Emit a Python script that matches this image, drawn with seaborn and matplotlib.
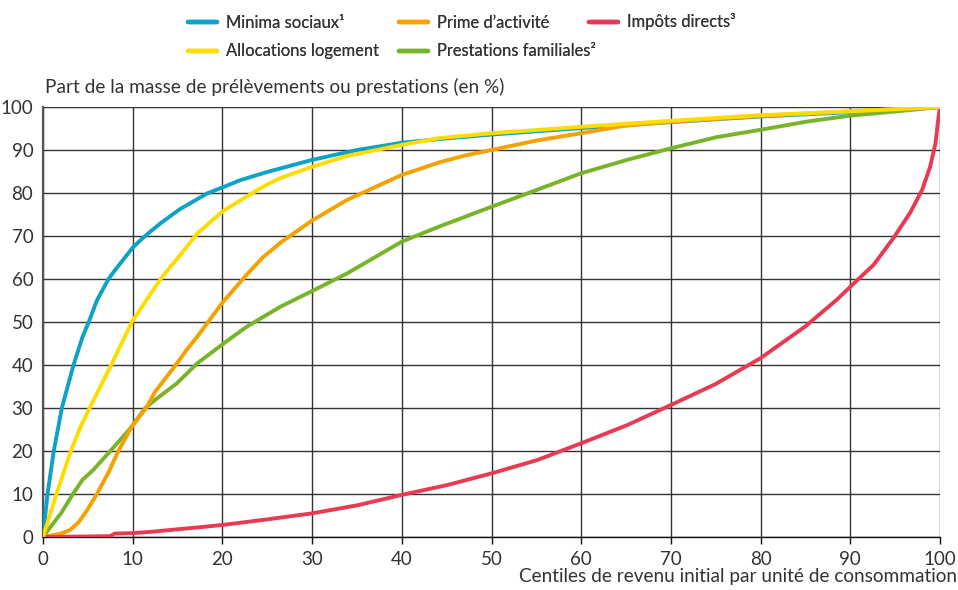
import matplotlib
matplotlib.use("Agg")
import matplotlib.pyplot as plt
import seaborn as sns
import pandas as pd

# Courbes de concentration (centile, part cumulée en %)
minima_x = [0, 0.5, 1.2, 2.1, 3.4, 4.4, 5.1, 6, 7.3, 8, 10, 11, 12, 13, 14.5, 15.3, 18.3, 20, 22, 25, 30, 35, 40, 45, 50, 60, 70, 80, 90, 100]
minima_y = [0, 10, 20, 30, 40, 46.5, 50, 55, 60, 62, 67.3, 69.3, 71.1, 72.8, 75.1, 76.3, 79.9, 81.3, 83, 84.9, 87.7, 90, 91.7, 92.7, 93.6, 95.1, 96.5, 97.8, 98.8, 100]

logement_x = [0, 1.5, 3.1, 4.2, 5.2, 7.6, 9.9, 13.1, 15.3, 17.2, 20, 22.7, 25, 26.5, 30, 33.9, 40, 44.3, 50, 60, 70, 80, 90, 100]
logement_y = [0, 10, 20, 25.7, 30, 40, 50, 60, 65.6, 70.6, 75.7, 79.2, 82, 83.5, 86.1, 88.6, 91.2, 92.8, 93.9, 95.4, 96.8, 98.1, 99, 100]

prime_x = [0, 1, 2, 3, 4, 5, 6, 7.3, 8.4, 9.9, 11.5, 12.5, 14.8, 16, 17.2, 20, 22.7, 24.5, 26.5, 30, 33.9, 40, 44.3, 47, 50, 55, 60, 64.7, 70, 80, 90, 100]
prime_y = [0, 0.4, 0.8, 1.6, 3.5, 6.5, 10, 15, 20, 25.7, 30, 33.8, 40, 43.5, 46.6, 54.5, 61, 65, 68.5, 73.6, 78.4, 84.2, 87.2, 88.7, 90, 92.2, 93.9, 95.6, 96.6, 97.9, 99, 100]

familiales_x = [0, 1, 2, 3.4, 4.4, 5.6, 7.5, 9.75, 11.4, 12.5, 14.9, 17.2, 20, 22.7, 26.5, 30, 33.9, 40, 44.3, 50, 55.4, 60, 65.1, 70, 75.1, 80, 85.1, 90, 95.2, 100]
familiales_y = [0, 2.8, 5.5, 10.2, 13.3, 15.6, 20, 25.3, 30, 31.9, 35.7, 40.4, 44.8, 48.9, 53.6, 57.2, 61.3, 68.7, 72.3, 76.8, 81, 84.6, 87.7, 90.4, 93, 94.7, 96.6, 98, 99, 100]

impots_x = [0, 7.5, 8, 10, 12, 15, 17.6, 20, 25, 30, 35.1, 40, 45.1, 50, 55.1, 60, 65.1, 70, 75, 80, 85, 88.5, 90, 92.6, 94.8, 96.7, 98, 98.9, 99.5, 99.8, 100]
impots_y = [0, 0.2, 0.8, 0.9, 1.2, 1.8, 2.3, 2.8, 4.1, 5.5, 7.4, 9.8, 12.1, 14.8, 17.9, 21.8, 26, 30.7, 35.6, 41.6, 49, 55.2, 58.2, 63.3, 69.5, 75.5, 80.7, 86.1, 91.6, 97, 100]

series = {
    "Minima sociaux¹": (minima_x, minima_y, "#0ea2c6"),
    "Allocations logement": (logement_x, logement_y, "#ffdc00"),
    "Prime d\u2019activité": (prime_x, prime_y, "#f5a200"),
    "Prestations familiales²": (familiales_x, familiales_y, "#78b42a"),
    "Impôts directs³": (impots_x, impots_y, "#e83a52"),
}

sns.set_theme(style="white")
plt.rcParams['font.family'] = ['Lato', 'DejaVu Sans']

fig = plt.figure(figsize=(9.58, 5.90), dpi=100)
ax = fig.add_axes([0.0449, 0.0898, 0.9363, 0.7288])

# ordre de tracé : le jaune passe au-dessus du bleu et de l'orange
draw_order = ["Minima sociaux¹", "Prestations familiales²", "Prime d\u2019activité",
              "Impôts directs³", "Allocations logement"]
for name in draw_order:
    xs, ys, col = series[name]
    df = pd.DataFrame({"x": xs, "y": ys})
    sns.lineplot(data=df, x="x", y="y", ax=ax, color=col, linewidth=2.8,
                 sort=False, estimator=None, label=name, zorder=3)

ax.set_xlim(0, 100)
ax.set_ylim(0, 100)
ax.set_xticks(range(0, 101, 10))
ax.set_yticks(range(0, 101, 10))
ax.grid(True, color="#333333", linewidth=1)
ax.set_axisbelow(True)
for s in ["top", "right"]:
    ax.spines[s].set_visible(False)
ax.spines["left"].set_color("#555555")
ax.spines["left"].set_linewidth(1.6)
ax.spines["bottom"].set_color("#111111")
ax.spines["bottom"].set_linewidth(1)
ax.tick_params(axis="y", length=0, pad=7, labelsize=13.5, labelcolor="#333333")
ax.tick_params(axis="x", length=5, width=1, color="#111111", pad=5,
               labelsize=13.5, labelcolor="#333333", bottom=True)
ax.set_xlabel("")
ax.set_ylabel("")

fig.text(0.047, 0.838, "Part de la masse de prélèvements ou prestations (en %)",
         fontsize=13.7, color="#333333", ha="left", va="bottom")
fig.text(0.999, 0.008, "Centiles de revenu initial par unité de consommation",
         fontsize=13.7, color="#333333", ha="right", va="bottom")

ax.get_legend().remove()
handles, labels = ax.get_legend_handles_labels()
hmap = dict(zip(labels, handles))

# légende en trois colonnes posées séparément (positions du modèle)
columns = [
    (["Minima sociaux¹", "Allocations logement"], 188, 37),
    (["Prime d\u2019activité", "Prestations familiales²"], 399, 37),
    (["Impôts directs³"], 589, 22),
]
W, H = 958, 590
for names, px, py in columns:
    leg = fig.legend([hmap[k] for k in names], names, loc="center left",
                     bbox_to_anchor=(px / W, 1 - py / H), frameon=False,
                     fontsize=11.9, handlelength=1.75, handletextpad=0.55,
                     labelspacing=0.78, borderpad=0, borderaxespad=0,
                     labelcolor="#333333")
    for ln in leg.get_lines():
        ln.set_linewidth(3.2)
    fig.add_artist(leg)

fig.savefig("out.png", dpi=100)
